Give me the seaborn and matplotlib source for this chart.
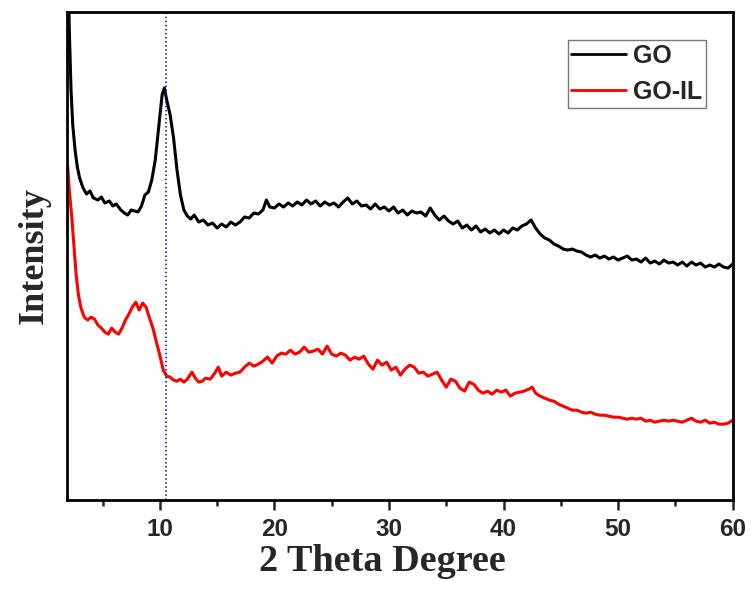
import numpy as np
import pandas as pd
import matplotlib
matplotlib.use('Agg')
import matplotlib.pyplot as plt
import seaborn as sns

# GO trace (2 theta, intensity a.u.)
go_x = [1.95, 2.1, 2.25, 2.4, 2.6, 2.8, 3.0, 3.3, 3.6, 3.9, 4.2, 4.6, 4.9, 5.2, 5.6, 5.9,
        6.2, 6.6, 6.9, 7.2, 7.5, 7.8, 8.1, 8.4, 8.7, 9.0, 9.3, 9.6, 9.9, 10.2, 10.4, 10.6,
        10.9, 11.2, 11.5, 11.8, 12.1, 12.4, 12.7, 13.0, 13.4, 13.8, 14.2, 14.6, 15.0, 15.4,
        15.8, 16.2, 16.6, 17.0, 17.4, 17.8, 18.2, 18.6, 19.0, 19.3, 19.6, 20.0, 20.4, 20.8,
        21.2, 21.6, 22.0, 22.4, 22.8, 23.2, 23.6, 24.0, 24.4, 24.8, 25.2, 25.6, 26.0, 26.4,
        26.8, 27.2, 27.6, 28.0, 28.4, 28.8, 29.2, 29.6, 30.0, 30.4, 30.8, 31.2, 31.6, 32.0,
        32.4, 32.8, 33.2, 33.6, 34.0, 34.4, 34.8, 35.2, 35.6, 36.0, 36.4, 36.8, 37.2, 37.6,
        38.0, 38.4, 38.8, 39.2, 39.6, 40.0, 40.4, 40.8, 41.2, 41.6, 42.0, 42.4, 42.8, 43.2,
        43.6, 44.0, 44.4, 44.8, 45.2, 45.6, 46.0, 46.4, 46.8, 47.2, 47.6, 48.0, 48.4, 48.8,
        49.2, 49.6, 50.0, 50.4, 50.8, 51.2, 51.6, 52.0, 52.4, 52.8, 53.2, 53.6, 54.0, 54.4,
        54.8, 55.2, 55.6, 56.0, 56.4, 56.8, 57.2, 57.6, 58.0, 58.4, 58.8, 59.2, 59.6, 60.0]
go_y = [560, 470, 410, 375, 350, 333, 322, 312, 306, 309, 302, 300, 303, 297, 299, 294,
        296, 290, 287, 285, 290, 289, 288, 294, 305, 308, 320, 340, 372, 405, 412, 400,
        385, 362, 330, 305, 290, 284, 281, 285, 278, 280, 275, 277, 272, 276,
        273, 278, 275, 278, 283, 282, 287, 286, 290, 300, 293, 292, 296, 293,
        297, 294, 298, 295, 300, 296, 299, 294, 298, 295, 297, 293, 298, 302,
        296, 299, 294, 295, 291, 296, 291, 293, 289, 293, 287, 290, 285, 289,
        287, 288, 284, 292, 285, 280, 284, 279, 276, 279, 272, 275, 270, 274,
        268, 271, 267, 270, 266, 270, 267, 272, 270, 274, 276, 280, 272, 266,
        262, 260, 256, 254, 251, 250, 251, 249, 248, 245, 243, 245, 242, 244,
        241, 243, 240, 242, 244, 240, 241, 238, 242, 237, 239, 236, 240, 237,
        238, 235, 238, 234, 238, 235, 237, 233, 235, 233, 236, 233, 232, 236]

# GO-IL trace
goil_x = [1.95, 2.1, 2.3, 2.5, 2.7, 2.9, 3.1, 3.4, 3.7, 4.0, 4.3, 4.6, 4.9, 5.2, 5.5, 5.8,
          6.1, 6.4, 6.7, 7.0, 7.3, 7.6, 7.9, 8.2, 8.5, 8.8, 9.1, 9.4, 9.7, 10.0, 10.3, 10.6,
          10.9, 11.2, 11.5, 11.8, 12.1, 12.4, 12.8, 13.1, 13.4, 13.7, 14.0, 14.4, 14.8, 15.1,
          15.4, 15.8, 16.2, 16.6, 17.0, 17.4, 17.8, 18.2, 18.6, 19.0, 19.4, 19.8, 20.2, 20.6,
          21.0, 21.4, 21.8, 22.2, 22.6, 23.0, 23.4, 23.8, 24.2, 24.6, 25.0, 25.4, 25.8, 26.2,
          26.6, 27.0, 27.4, 27.8, 28.2, 28.6, 29.0, 29.4, 29.8, 30.2, 30.6, 31.0, 31.4, 31.8,
          32.2, 32.6, 33.0, 33.4, 33.8, 34.2, 34.6, 35.0, 35.4, 35.8, 36.2, 36.6, 37.0, 37.4,
          37.8, 38.2, 38.6, 39.0, 39.4, 39.8, 40.2, 40.6, 41.0, 41.4, 41.8, 42.2, 42.5, 42.8,
          43.2, 43.6, 44.0, 44.4, 44.8, 45.2, 45.6, 46.0, 46.4, 46.8, 47.2, 47.6, 48.0, 48.4,
          48.8, 49.2, 49.6, 50.0, 50.4, 50.8, 51.2, 51.6, 52.0, 52.4, 52.8, 53.2, 53.6, 54.0,
          54.4, 54.8, 55.2, 55.6, 56.0, 56.4, 56.8, 57.2, 57.6, 58.0, 58.4, 58.8, 59.2, 59.6, 60.0]
goil_y = [335, 310, 285, 255, 225, 205, 193, 183, 180, 183, 181, 175, 172, 168, 166, 172,
          168, 166, 172, 180, 186, 193, 198, 190, 197, 193, 182, 172, 158, 145, 130, 124,
          123, 120, 119, 121, 118, 121, 128, 122, 118, 119, 122, 121, 127, 133,
          124, 128, 125, 127, 128, 133, 137, 134, 136, 139, 143, 137, 144, 147,
          146, 150, 146, 148, 153, 148, 149, 151, 146, 154, 146, 144, 147, 145,
          140, 143, 141, 144, 136, 131, 140, 135, 138, 130, 133, 125, 131, 135,
          133, 127, 128, 124, 126, 128, 120, 113, 121, 119, 112, 109, 118, 116,
          110, 107, 109, 106, 110, 108, 110, 104, 107, 108, 109, 111, 113, 107,
          104, 102, 100, 99, 96, 94, 92, 90, 90, 88, 87, 88, 86, 85,
          85, 84, 83, 83, 82, 81, 82, 81, 82, 79, 80, 78, 79, 80,
          79, 80, 79, 78, 80, 82, 79, 78, 80, 77, 78, 76, 76, 77, 80]

marker_x = 10.5

df = pd.concat([
    pd.DataFrame({'two_theta': go_x, 'intensity': go_y, 'sample': 'GO'}),
    pd.DataFrame({'two_theta': goil_x, 'intensity': goil_y, 'sample': 'GO-IL'}),
])

sns.set_style('ticks')
plt.rcParams['font.family'] = ['Liberation Sans', 'DejaVu Sans']

fig = plt.figure(figsize=(7.53, 5.92), dpi=100)
ax = fig.add_axes([0.089, 0.155, 0.884, 0.825])

sns.lineplot(data=df, x='two_theta', y='intensity', hue='sample',
             palette={'GO': 'black', 'GO-IL': '#ff0000'}, linewidth=2.2,
             sort=False, estimator=None, ax=ax)
ax.axvline(marker_x, color='#0000cc', linestyle=':', linewidth=1.1)

ax.set_xlim(1.9, 60)
ax.set_ylim(0, 488)
ax.set_xticks([10, 20, 30, 40, 50, 60])
ax.set_xticks([5, 15, 25, 35, 45, 55], minor=True)
ax.set_yticks([])
ax.tick_params(axis='x', which='major', length=7, width=1.8, pad=6,
               labelsize=17.5)
ax.tick_params(axis='x', which='minor', length=4, width=1.8)
for lab in ax.get_xticklabels():
    lab.set_fontweight('bold')
for sp in ax.spines.values():
    sp.set_linewidth(2)
    sp.set_color('black')

ax.set_xlabel('2 Theta Degree', family='Liberation Serif', fontweight='bold',
              fontsize=27.5, labelpad=2)
ax.xaxis.label.set_x(0.474)
ax.set_ylabel('Intensity', family='Liberation Serif', fontweight='bold',
              fontsize=26, labelpad=12)

leg = ax.legend(loc='upper right', bbox_to_anchor=(0.9595, 0.9426), fancybox=False,
                frameon=True, handlelength=2.2, handletextpad=0.25,
                borderpad=0.15, labelspacing=0.5, borderaxespad=0,
                prop={'family': 'Liberation Sans', 'weight': 'bold', 'size': 18})
leg.get_frame().set_edgecolor('#555555')
leg.get_frame().set_linewidth(1)
for line in leg.get_lines():
    line.set_linewidth(2)

plt.savefig('out.png', dpi=100)
plt.close()
